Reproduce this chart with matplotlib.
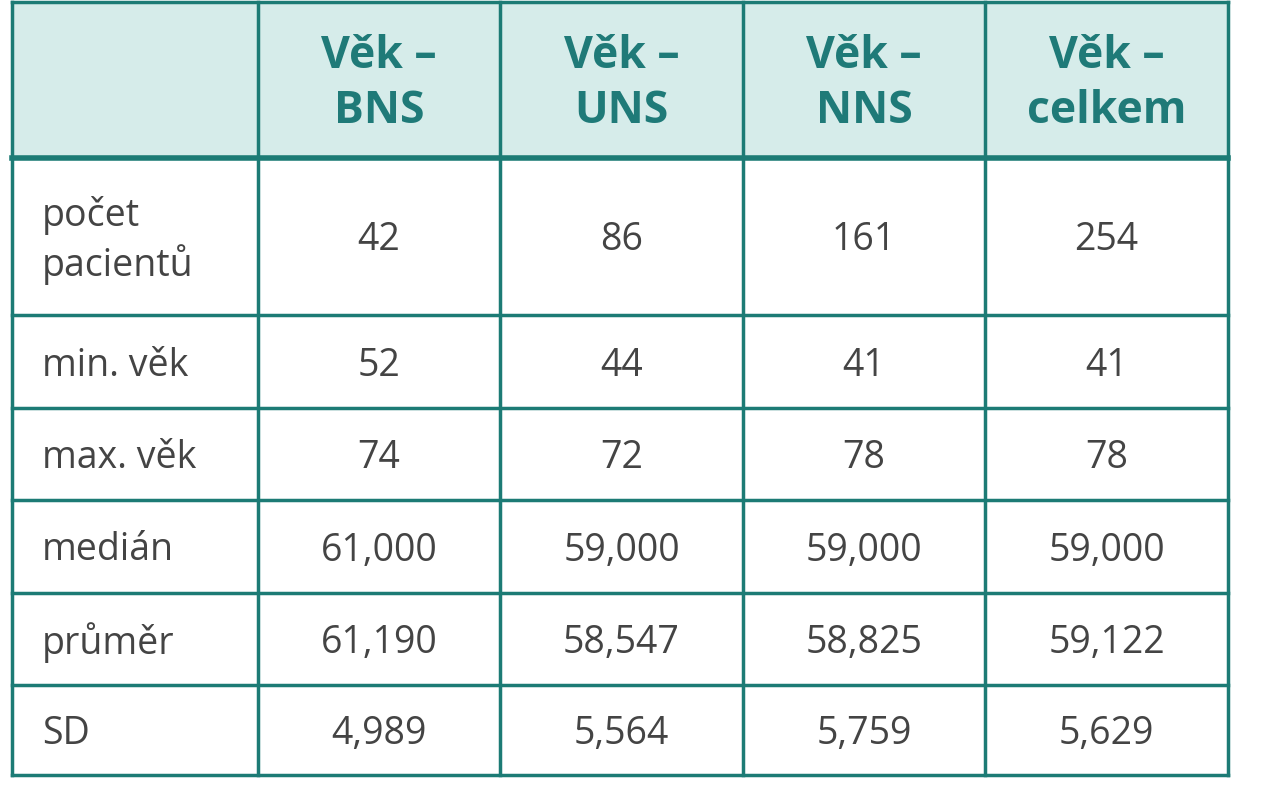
import matplotlib.pyplot as plt
from matplotlib.patches import Rectangle

headers = ["Věk –\nBNS", "Věk –\nUNS", "Věk –\nNNS", "Věk –\ncelkem"]
row_labels = ["počet\npacientů", "min. věk", "max. věk", "medián", "průměr", "SD"]
bns = ["42", "52", "74", "61,000", "61,190", "4,989"]
uns = ["86", "44", "72", "59,000", "58,547", "5,564"]
nns = ["161", "41", "78", "59,000", "58,825", "5,759"]
celkem = ["254", "41", "78", "59,000", "59,122", "5,629"]
columns = [bns, uns, nns, celkem]

line_c = "#1c7b75"
head_bg = "#d6ecea"
head_txt = "#1f7a78"
body_txt = "#444444"

col_x = [12, 258, 500, 743, 985, 1228]
row_y = [2, 158, 315, 408, 500, 593, 685, 775]

fig = plt.figure(figsize=(12.62, 8), dpi=100)
ax = fig.add_axes([0, 0, 1, 1])
ax.set_xlim(0, 1262)
ax.set_ylim(800, 0)
ax.axis("off")

ax.add_patch(Rectangle((col_x[0], row_y[0]), col_x[-1] - col_x[0], row_y[1] - row_y[0],
                       facecolor=head_bg, edgecolor="none"))

for x in col_x:
    ax.plot([x, x], [row_y[0], row_y[-1]], color=line_c, lw=2.5)
for i, y in enumerate(row_y):
    ax.plot([col_x[0], col_x[-1]], [y, y], color=line_c, lw=4 if i == 1 else 2.5)

font = "Open Sans"
for j, h in enumerate(headers):
    cx = (col_x[j + 1] + col_x[j + 2]) / 2
    ax.text(cx, (row_y[0] + row_y[1]) / 2 + 4, h, ha="center", va="center",
            fontsize=32, fontweight="bold", color=head_txt, family=font, linespacing=1.3)

for i, lab in enumerate(row_labels):
    cy = (row_y[i + 1] + row_y[i + 2]) / 2 + 4
    ax.text(col_x[0] + 30, cy, lab, ha="left", va="center", fontsize=27,
            color=body_txt, family=font, linespacing=1.3)
    for j, col in enumerate(columns):
        cx = (col_x[j + 1] + col_x[j + 2]) / 2
        ax.text(cx, cy, col[i], ha="center", va="center", fontsize=27,
                color=body_txt, family=font)

fig.savefig("out.png", dpi=100, facecolor="white")
plt.close(fig)
